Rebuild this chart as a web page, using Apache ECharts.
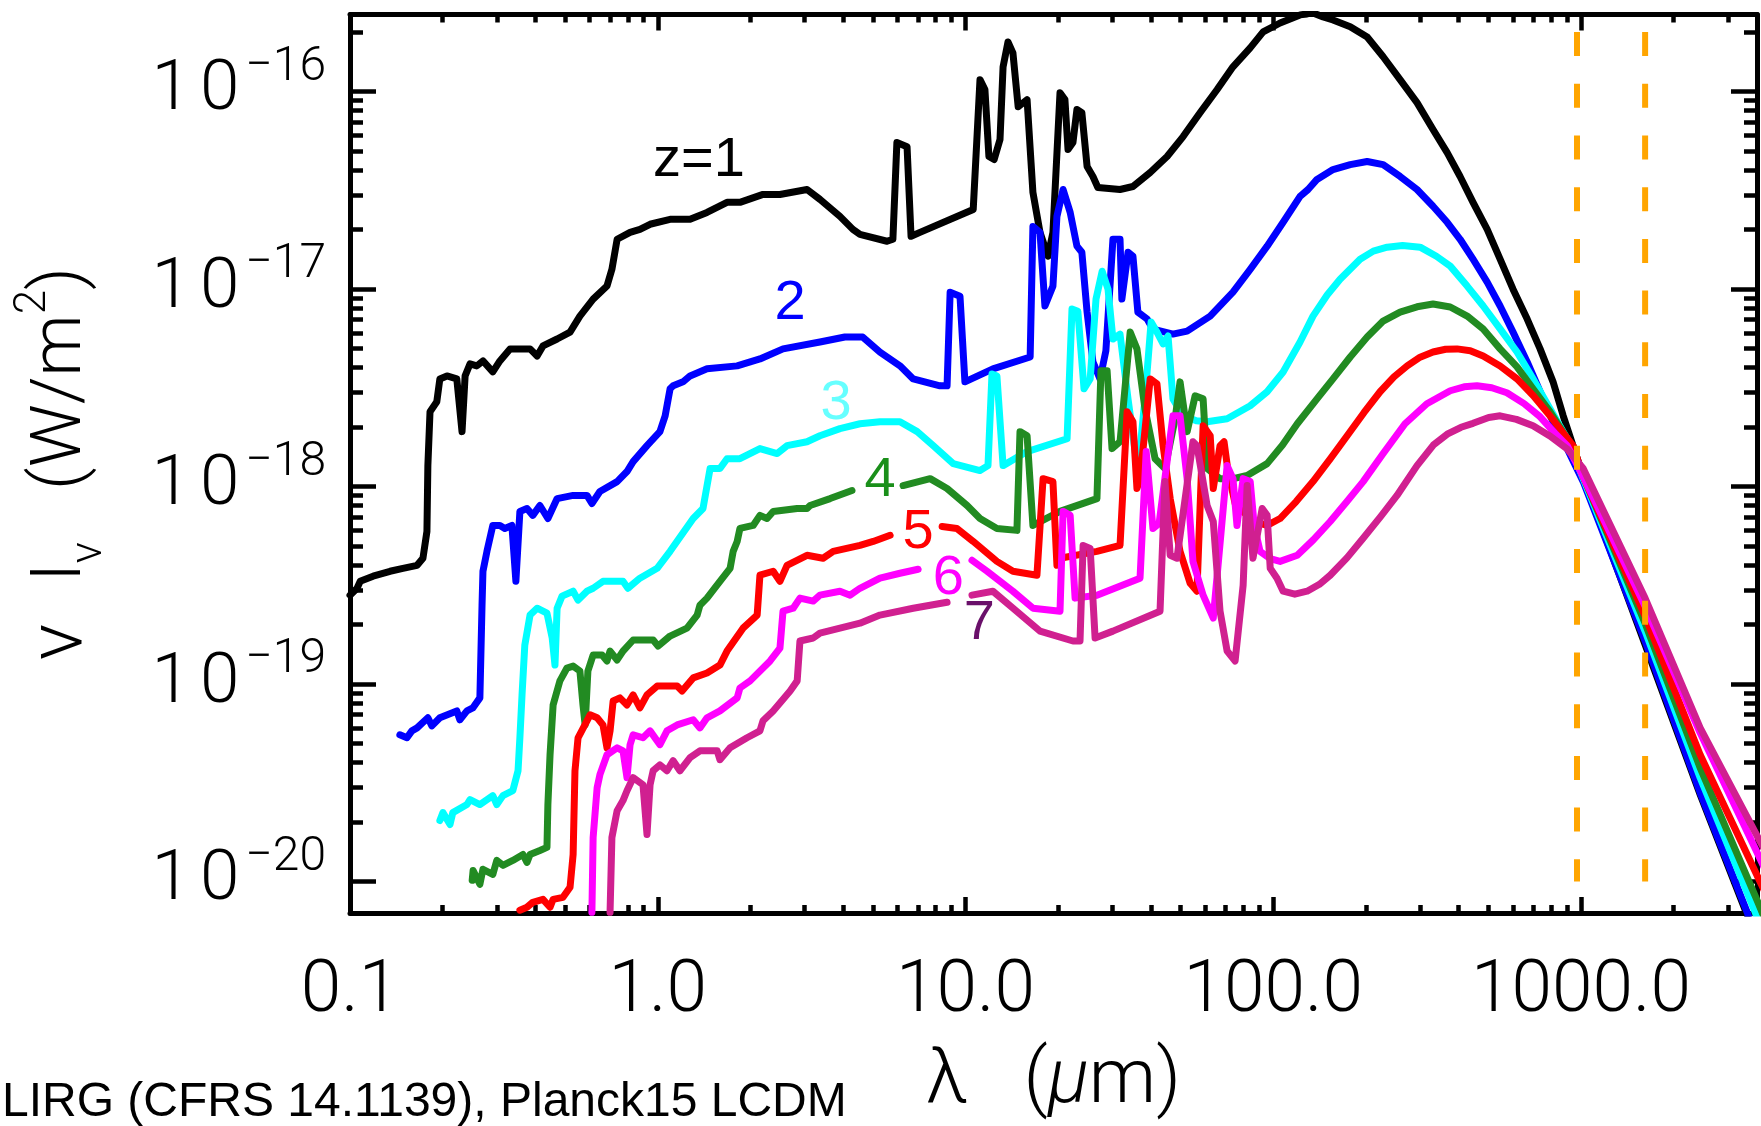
<!DOCTYPE html>
<html>
<head>
<meta charset="utf-8">
<title>LIRG SED vs redshift</title>
<script src="https://cdn.jsdelivr.net/npm/echarts@6/dist/echarts.min.js"></script>
<style>
  html, body { margin: 0; padding: 0; background: #ffffff; }
  #chart { width: 1761px; height: 1126px; }
</style>
</head>
<body>
<div id="chart"></div>
<script>
// Observed-frame SED of a LIRG template (CFRS 14.1139) redshifted to z = 1..7.
// Each point is [log10(lambda / micron), log10(nu I_nu / (W m^-2))]; null marks a break in the curve.
const sedZ1 = [[-1.000,-18.550],[-0.977,-18.515],[-0.967,-18.480],[-0.925,-18.454],[-0.870,-18.429],[-0.828,-18.414],[-0.782,-18.399],[-0.763,-18.363],[-0.750,-18.227],[-0.747,-17.894],[-0.740,-17.621],[-0.718,-17.571],[-0.708,-17.455],[-0.685,-17.440],[-0.653,-17.455],[-0.636,-17.722],[-0.626,-17.440],[-0.610,-17.379],[-0.588,-17.389],[-0.568,-17.364],[-0.536,-17.419],[-0.513,-17.364],[-0.480,-17.303],[-0.415,-17.303],[-0.392,-17.339],[-0.373,-17.288],[-0.327,-17.253],[-0.285,-17.218],[-0.253,-17.137],[-0.210,-17.051],[-0.165,-16.985],[-0.149,-16.900],[-0.132,-16.748],[-0.090,-16.713],[-0.058,-16.698],[-0.025,-16.672],[0.040,-16.647],[0.105,-16.647],[0.160,-16.612],[0.225,-16.561],[0.267,-16.561],[0.342,-16.521],[0.397,-16.521],[0.485,-16.496],[0.527,-16.546],[0.592,-16.632],[0.634,-16.698],[0.657,-16.723],[0.745,-16.758],[0.764,-16.748],[0.777,-16.258],[0.810,-16.279],[0.823,-16.733],[0.852,-16.713],[1.025,-16.597],[1.047,-15.940],[1.063,-15.990],[1.076,-16.329],[1.093,-16.344],[1.112,-16.243],[1.122,-15.875],[1.138,-15.749],[1.154,-15.804],[1.171,-16.077],[1.200,-16.041],[1.219,-16.511],[1.242,-16.713],[1.268,-16.834],[1.284,-16.713],[1.307,-16.006],[1.323,-16.041],[1.333,-16.294],[1.349,-16.258],[1.362,-16.091],[1.378,-16.107],[1.395,-16.379],[1.414,-16.430],[1.430,-16.486],[1.502,-16.496],[1.544,-16.481],[1.600,-16.410],[1.655,-16.329],[1.707,-16.228],[1.762,-16.107],[1.817,-15.991],[1.869,-15.875],[1.925,-15.779],[1.967,-15.698],[2.022,-15.653],[2.087,-15.612],[2.110,-15.607],[2.129,-15.602],[2.162,-15.622],[2.194,-15.638],[2.250,-15.672],[2.305,-15.724],[2.357,-15.824],[2.412,-15.940],[2.467,-16.056],[2.519,-16.192],[2.565,-16.309],[2.607,-16.430],[2.649,-16.561],[2.695,-16.698],[2.737,-16.849],[2.779,-17.001],[2.825,-17.152],[2.867,-17.303],[2.909,-17.470],[2.942,-17.642],[3.007,-17.950],[3.208,-18.800],[3.387,-19.560],[3.540,-20.170]];

const sedZ2 = [[-0.838,-19.257],[-0.815,-19.272],[-0.799,-19.237],[-0.782,-19.222],[-0.747,-19.171],[-0.734,-19.212],[-0.708,-19.171],[-0.653,-19.136],[-0.643,-19.181],[-0.620,-19.136],[-0.601,-19.121],[-0.578,-19.070],[-0.571,-18.601],[-0.568,-18.429],[-0.555,-18.328],[-0.536,-18.197],[-0.513,-18.197],[-0.497,-18.212],[-0.474,-18.197],[-0.461,-18.480],[-0.448,-18.126],[-0.425,-18.111],[-0.406,-18.146],[-0.383,-18.096],[-0.357,-18.162],[-0.327,-18.061],[-0.275,-18.045],[-0.230,-18.045],[-0.214,-18.086],[-0.188,-18.025],[-0.132,-17.975],[-0.100,-17.924],[-0.080,-17.874],[-0.035,-17.793],[0.007,-17.722],[0.024,-17.642],[0.040,-17.505],[0.050,-17.490],[0.082,-17.470],[0.105,-17.440],[0.160,-17.404],[0.258,-17.389],[0.332,-17.354],[0.407,-17.303],[0.527,-17.268],[0.608,-17.243],[0.666,-17.243],[0.722,-17.319],[0.787,-17.389],[0.830,-17.455],[0.917,-17.490],[0.940,-17.490],[0.950,-17.016],[0.982,-17.036],[0.998,-17.470],[1.089,-17.404],[1.210,-17.344],[1.219,-16.683],[1.242,-16.713],[1.258,-17.086],[1.284,-16.985],[1.297,-16.632],[1.317,-16.496],[1.340,-16.612],[1.362,-16.783],[1.378,-16.814],[1.395,-17.117],[1.414,-17.369],[1.437,-17.455],[1.456,-17.313],[1.479,-16.748],[1.502,-16.748],[1.508,-17.051],[1.528,-16.814],[1.544,-16.834],[1.560,-17.117],[1.590,-17.152],[1.609,-17.203],[1.674,-17.228],[1.720,-17.213],[1.795,-17.137],[1.869,-17.016],[1.925,-16.900],[1.980,-16.783],[2.032,-16.662],[2.087,-16.531],[2.113,-16.496],[2.142,-16.445],[2.194,-16.395],[2.250,-16.370],[2.305,-16.354],[2.357,-16.370],[2.412,-16.430],[2.467,-16.496],[2.519,-16.581],[2.565,-16.662],[2.607,-16.748],[2.649,-16.849],[2.695,-16.965],[2.737,-17.086],[2.779,-17.218],[2.825,-17.369],[2.867,-17.520],[2.909,-17.672],[2.955,-17.808],[3.007,-17.975],[3.208,-18.782],[3.387,-19.550],[3.540,-20.156],[3.600,-20.450]];

const sedZ3 = [[-0.708,-19.691],[-0.698,-19.651],[-0.675,-19.711],[-0.666,-19.651],[-0.620,-19.610],[-0.610,-19.585],[-0.578,-19.610],[-0.536,-19.565],[-0.523,-19.610],[-0.503,-19.565],[-0.471,-19.540],[-0.454,-19.439],[-0.448,-19.272],[-0.441,-19.055],[-0.432,-18.803],[-0.415,-18.651],[-0.392,-18.616],[-0.360,-18.641],[-0.343,-18.767],[-0.334,-18.904],[-0.327,-18.616],[-0.311,-18.555],[-0.275,-18.530],[-0.259,-18.575],[-0.230,-18.530],[-0.210,-18.515],[-0.178,-18.480],[-0.113,-18.480],[-0.097,-18.515],[-0.058,-18.464],[-0.002,-18.414],[0.040,-18.328],[0.115,-18.162],[0.147,-18.111],[0.170,-17.909],[0.202,-17.909],[0.225,-17.859],[0.267,-17.859],[0.332,-17.808],[0.388,-17.833],[0.420,-17.793],[0.485,-17.773],[0.527,-17.743],[0.592,-17.707],[0.657,-17.682],[0.722,-17.672],[0.787,-17.672],[0.843,-17.722],[0.895,-17.793],[0.960,-17.884],[1.047,-17.919],[1.073,-17.894],[1.086,-17.430],[1.102,-17.440],[1.122,-17.894],[1.200,-17.823],[1.330,-17.758],[1.346,-17.101],[1.365,-17.112],[1.385,-17.505],[1.405,-17.455],[1.424,-17.051],[1.444,-16.910],[1.463,-17.001],[1.479,-17.253],[1.502,-17.228],[1.528,-17.556],[1.560,-17.924],[1.583,-17.556],[1.603,-17.167],[1.622,-17.218],[1.642,-17.278],[1.658,-17.238],[1.674,-17.556],[1.707,-17.642],[1.750,-17.667],[1.785,-17.672],[1.850,-17.657],[1.925,-17.591],[1.980,-17.520],[2.032,-17.420],[2.087,-17.268],[2.129,-17.137],[2.175,-17.030],[2.217,-16.950],[2.282,-16.849],[2.325,-16.808],[2.370,-16.788],[2.420,-16.780],[2.477,-16.788],[2.530,-16.834],[2.575,-16.884],[2.630,-16.985],[2.682,-17.086],[2.737,-17.202],[2.792,-17.319],[2.844,-17.455],[2.899,-17.606],[2.955,-17.758],[3.007,-17.960],[3.208,-18.732],[3.387,-19.474],[3.566,-20.156],[3.600,-20.330]];

const sedZ4 = [[-0.603,-19.994],[-0.600,-19.944],[-0.578,-20.014],[-0.568,-19.938],[-0.536,-19.964],[-0.523,-19.893],[-0.503,-19.918],[-0.471,-19.893],[-0.438,-19.863],[-0.425,-19.903],[-0.415,-19.863],[-0.383,-19.843],[-0.360,-19.827],[-0.357,-19.610],[-0.350,-19.358],[-0.340,-19.106],[-0.318,-18.984],[-0.295,-18.919],[-0.275,-18.909],[-0.253,-18.934],[-0.243,-19.106],[-0.236,-19.207],[-0.227,-18.934],[-0.210,-18.853],[-0.181,-18.853],[-0.165,-18.883],[-0.155,-18.833],[-0.132,-18.878],[-0.113,-18.833],[-0.080,-18.777],[-0.015,-18.777],[0.001,-18.808],[0.040,-18.757],[0.095,-18.717],[0.128,-18.651],[0.137,-18.601],[0.160,-18.565],[0.202,-18.480],[0.235,-18.414],[0.245,-18.328],[0.258,-18.278],[0.267,-18.212],[0.310,-18.197],[0.332,-18.146],[0.355,-18.162],[0.375,-18.126],[0.453,-18.111],[0.485,-18.111],[0.495,-18.096],[0.560,-18.061],[0.631,-18.020],null,[0.797,-17.995],[0.885,-17.960],[0.940,-18.010],[1.005,-18.096],[1.047,-18.162],[1.102,-18.212],[1.167,-18.222],[1.177,-17.722],[1.200,-17.743],[1.219,-18.197],[1.307,-18.126],[1.427,-18.061],[1.440,-17.414],[1.460,-17.414],[1.476,-17.808],[1.502,-17.773],[1.535,-17.218],[1.557,-17.303],[1.583,-17.606],[1.616,-17.859],[1.648,-17.909],[1.681,-17.657],[1.697,-17.470],[1.720,-17.722],[1.746,-17.541],[1.772,-17.556],[1.785,-17.909],[1.827,-17.960],[1.870,-17.960],[1.915,-17.944],[1.980,-17.884],[2.030,-17.790],[2.078,-17.682],[2.142,-17.556],[2.194,-17.455],[2.250,-17.344],[2.305,-17.243],[2.357,-17.162],[2.412,-17.117],[2.467,-17.090],[2.519,-17.076],[2.575,-17.091],[2.630,-17.137],[2.682,-17.202],[2.737,-17.303],[2.792,-17.394],[2.844,-17.505],[2.899,-17.621],[2.955,-17.758],[3.007,-17.950],[3.208,-18.692],[3.387,-19.424],[3.572,-20.095],[3.600,-20.200]];

const sedZ5 = [[-0.448,-20.145],[-0.425,-20.130],[-0.406,-20.105],[-0.373,-20.090],[-0.350,-20.130],[-0.340,-20.090],[-0.308,-20.080],[-0.285,-20.029],[-0.275,-19.863],[-0.269,-19.439],[-0.259,-19.272],[-0.230,-19.186],[-0.220,-19.156],[-0.197,-19.171],[-0.178,-19.207],[-0.165,-19.323],[-0.155,-19.237],[-0.145,-19.086],[-0.123,-19.070],[-0.100,-19.106],[-0.080,-19.055],[-0.058,-19.121],[-0.035,-19.055],[-0.002,-19.010],[0.063,-19.010],[0.079,-19.035],[0.115,-18.969],[0.160,-18.944],[0.202,-18.904],[0.225,-18.833],[0.277,-18.717],[0.323,-18.651],[0.332,-18.449],[0.375,-18.429],[0.397,-18.480],[0.420,-18.399],[0.485,-18.348],[0.537,-18.363],[0.570,-18.328],[0.657,-18.298],[0.700,-18.278],[0.755,-18.247],null,[0.924,-18.202],[0.972,-18.212],[1.025,-18.278],[1.102,-18.379],[1.154,-18.429],[1.232,-18.449],[1.252,-17.960],[1.284,-17.975],[1.297,-18.399],[1.307,-18.363],[1.427,-18.328],[1.502,-18.298],[1.525,-17.621],[1.544,-17.672],[1.557,-18.010],[1.567,-17.960],[1.600,-17.455],[1.622,-17.480],[1.642,-17.793],[1.665,-18.061],[1.697,-18.328],[1.730,-18.490],[1.752,-18.530],[1.772,-17.692],[1.795,-17.743],[1.805,-18.010],[1.827,-17.793],[1.840,-17.773],[1.853,-17.924],[1.876,-18.086],[1.934,-18.177],[1.980,-18.197],[2.022,-18.162],[2.075,-18.075],[2.129,-17.975],[2.185,-17.860],[2.240,-17.743],[2.295,-17.625],[2.347,-17.520],[2.392,-17.445],[2.435,-17.389],[2.477,-17.345],[2.519,-17.319],[2.560,-17.305],[2.597,-17.303],[2.640,-17.312],[2.682,-17.339],[2.737,-17.390],[2.792,-17.455],[2.845,-17.540],[2.899,-17.642],[2.974,-17.793],[3.007,-17.950],[3.208,-18.656],[3.387,-19.358],[3.575,-19.979],[3.600,-20.060]];

const sedZ6 = [[-0.214,-20.156],[-0.210,-19.777],[-0.197,-19.525],[-0.188,-19.459],[-0.165,-19.358],[-0.132,-19.323],[-0.113,-19.338],[-0.100,-19.474],[-0.090,-19.307],[-0.080,-19.257],[-0.048,-19.272],[-0.025,-19.237],[0.007,-19.307],[0.030,-19.237],[0.063,-19.207],[0.115,-19.181],[0.137,-19.222],[0.160,-19.171],[0.202,-19.136],[0.258,-19.070],[0.267,-19.020],[0.300,-18.984],[0.365,-18.883],[0.397,-18.818],[0.407,-18.631],[0.440,-18.616],[0.462,-18.565],[0.505,-18.580],[0.527,-18.550],[0.592,-18.530],[0.625,-18.550],[0.657,-18.515],[0.722,-18.464],[0.787,-18.439],[0.846,-18.419],null,[1.021,-18.373],[1.070,-18.429],[1.154,-18.530],[1.219,-18.616],[1.307,-18.631],[1.317,-18.126],[1.340,-18.146],[1.356,-18.565],[1.427,-18.550],[1.567,-18.464],[1.587,-17.823],[1.609,-18.212],[1.629,-18.187],[1.674,-17.642],[1.697,-17.642],[1.720,-17.960],[1.739,-18.379],[1.772,-18.550],[1.805,-18.666],[1.850,-17.894],[1.869,-17.960],[1.882,-18.197],[1.902,-17.960],[1.925,-17.975],[1.938,-18.197],[1.957,-18.328],[1.990,-18.365],[2.022,-18.379],[2.078,-18.348],[2.130,-18.270],[2.185,-18.177],[2.240,-18.075],[2.292,-17.975],[2.357,-17.833],[2.428,-17.682],[2.499,-17.581],[2.575,-17.515],[2.620,-17.495],[2.662,-17.490],[2.710,-17.500],[2.759,-17.525],[2.815,-17.580],[2.867,-17.647],[2.915,-17.730],[2.955,-17.793],[3.007,-17.950],[3.208,-18.606],[3.387,-19.247],[3.575,-19.863],[3.600,-19.945]];

const sedZ7 = [[-0.155,-20.156],[-0.149,-19.777],[-0.132,-19.641],[-0.113,-19.590],[-0.100,-19.540],[-0.080,-19.474],[-0.048,-19.510],[-0.035,-19.762],[-0.025,-19.510],[-0.015,-19.439],[0.007,-19.409],[0.030,-19.439],[0.050,-19.388],[0.072,-19.439],[0.105,-19.373],[0.137,-19.338],[0.193,-19.338],[0.202,-19.383],[0.235,-19.323],[0.290,-19.272],[0.332,-19.237],[0.342,-19.186],[0.375,-19.136],[0.430,-19.035],[0.453,-18.984],[0.462,-18.782],[0.505,-18.767],[0.527,-18.742],[0.592,-18.717],[0.657,-18.692],[0.722,-18.651],[0.830,-18.616],[0.940,-18.586],null,[1.021,-18.550],[1.089,-18.530],[1.154,-18.616],[1.242,-18.732],[1.349,-18.782],[1.372,-18.782],[1.382,-18.298],[1.405,-18.313],[1.421,-18.767],[1.479,-18.732],[1.632,-18.631],[1.648,-17.975],[1.665,-18.348],[1.687,-18.363],[1.739,-17.773],[1.752,-17.793],[1.785,-18.096],[1.805,-18.177],[1.827,-18.631],[1.850,-18.833],[1.876,-18.883],[1.902,-18.500],[1.915,-17.995],[1.934,-18.363],[1.964,-18.111],[1.980,-18.146],[1.990,-18.414],[2.012,-18.464],[2.032,-18.530],[2.070,-18.545],[2.110,-18.530],[2.150,-18.495],[2.185,-18.449],[2.240,-18.360],[2.292,-18.262],[2.350,-18.150],[2.402,-18.045],[2.467,-17.894],[2.520,-17.790],[2.565,-17.735],[2.610,-17.700],[2.649,-17.680],[2.700,-17.650],[2.737,-17.642],[2.790,-17.660],[2.844,-17.692],[2.900,-17.745],[2.955,-17.810],[3.007,-17.909],[3.208,-18.565],[3.387,-19.222],[3.575,-19.777],[3.600,-19.850]];

// Curve annotations: text and anchor (log10 lambda, log10 flux)
const curveLabels   = ['z=1', '2', '3', '4', '5', '6', '7'];
const labelLogLam   = [0.134, 0.430, 0.579, 0.722, 0.846, 0.944, 1.045];
const labelLogFlux  = [-16.351, -17.076, -17.581, -17.970, -18.232, -18.464, -18.692];

// Reference wavelengths (micron) marked with dashed lines, and their vertical span
const markerLam   = [970, 1615];
const markerFlux  = [2e-16, 1e-20];

// Axis ranges and tick labels
const xRange = [0.1, 3730];
const yRange = [6.93e-21, 2.455e-16];
const xMajorTicks = [0.1, 1, 10, 100, 1000];
const xTickLabels = ['0.1', '1.0', '10.0', '100.0', '1000.0'];
const yMajorTicks = [1e-20, 1e-19, 1e-18, 1e-17, 1e-16];
const yTickExponents = ['\u221220', '\u221219', '\u221218', '\u221217', '\u221216'];

const footnote = 'LIRG (CFRS 14.1139), Planck15 LCDM';

// Styling
const lineColors  = ['#000000', '#0000ff', '#00ffff', '#228b22', '#ff0000', '#ff00ff', '#d02090'];
const labelColors = ['#000000', '#0000ff', '#66ffff', '#1a8f1a', '#ff0000', '#ff00ff', '#6a106a'];
const THIN = 'Roboto';

const seds = [sedZ1, sedZ2, sedZ3, sedZ4, sedZ5, sedZ6, sedZ7];

function minorTicks(lo, hi, range) {
  const out = [];
  for (let d = lo; d <= hi; d++) {
    for (let k = 2; k <= 9; k++) {
      const v = k * Math.pow(10, d);
      if (v > range[0] && v < range[1]) out.push(v);
    }
  }
  return out;
}
const xMinorTicks = minorTicks(-1, 3, xRange);
const yMinorTicks = minorTicks(-21, -16, yRange);

const toXY = pairs => pairs.map(p => p ? [Math.pow(10, p[0]), Math.pow(10, p[1])] : ['-', '-']);
const sameDecade = (a, b) => Math.abs(Math.log10(a) - Math.log10(b)) < 1e-6;

const frameLine = { show: true, onZero: false, lineStyle: { color: '#000', width: 5 } };
const tickStyle = { color: '#000', width: 4.5 };

function logAxis(position, tickValues, tickLen, withLine, labelCfg, extra) {
  const isX = position === 'bottom' || position === 'top';
  const range = isX ? xRange : yRange;
  return Object.assign({
    type: 'log', logBase: 10, min: range[0], max: range[1], position: position,
    axisLine: withLine ? frameLine : { show: false },
    axisTick: { show: true, inside: true, length: tickLen, lineStyle: tickStyle, customValues: tickValues },
    minorTick: { show: false },
    axisLabel: labelCfg || { show: false },
    splitLine: { show: false },
    axisPointer: { show: false }
  }, extra || {});
}

const xLabelCfg = {
  show: true, customValues: xMajorTicks, margin: 43,
  fontSize: 73, fontFamily: THIN, fontWeight: 300, color: '#000',
  formatter: v => xTickLabels[xMajorTicks.findIndex(t => sameDecade(t, v))]
};
// "10" is split into two tokens so the digits sit a little further apart
const yLabelCfg = {
  show: true, customValues: yMajorTicks, margin: 24,
  formatter: v => '{b|1}{c|0}{s|' + yTickExponents[yMajorTicks.findIndex(t => sameDecade(t, v))] + '}',
  rich: {
    b: { fontSize: 71, lineHeight: 96, fontFamily: THIN, fontWeight: 300, color: '#000' },
    c: { fontSize: 71, lineHeight: 96, padding: [0, 0, 0, 9], fontFamily: THIN, fontWeight: 300, color: '#000' },
    s: { fontSize: 48, lineHeight: 48, verticalAlign: 'top', padding: [0, 0, 0, 6], fontFamily: THIN, fontWeight: 300, color: '#000' }
  }
};

const xName = {
  name: '{l|\u03bb}{r|   (}{mu|\u03bc}{r|m)}',
  nameLocation: 'middle', nameGap: 126,
  nameTextStyle: {
    rich: {
      l:  { fontSize: 76, lineHeight: 88, fontFamily: THIN, fontWeight: 300, color: '#000' },
      r:  { fontSize: 76, lineHeight: 88, fontFamily: THIN, fontWeight: 300, color: '#000' },
      mu: { fontSize: 76, lineHeight: 88, fontFamily: THIN, fontWeight: 300, fontStyle: 'italic', color: '#000' }
    }
  }
};
const yName = {
  name: '{nu|\u03bd}{I|I}{sub|\u03bd}{p|(W/m}{sup|2}{q|)}',
  nameLocation: 'middle', nameRotate: 90, nameGap: 238,
  nameTextStyle: {
    rich: {
      nu:  { fontSize: 76, lineHeight: 100, fontFamily: THIN, fontWeight: 300, color: '#000', padding: [0, 42, 0, 0] },
      I:   { fontSize: 70, lineHeight: 100, fontFamily: THIN, fontWeight: 300, color: '#000' },
      sub: { fontSize: 44, lineHeight: 44, verticalAlign: 'bottom', fontFamily: THIN, fontWeight: 300, color: '#000', padding: [0, 52, 0, 0] },
      p:   { fontSize: 70, lineHeight: 100, fontFamily: THIN, fontWeight: 300, color: '#000' },
      sup: { fontSize: 44, lineHeight: 44, verticalAlign: 'top', fontFamily: THIN, fontWeight: 300, color: '#000' },
      q:   { fontSize: 70, lineHeight: 100, fontFamily: THIN, fontWeight: 300, color: '#000' }
    }
  }
};

const sedSeries = seds.map((sed, i) => ({
  type: 'line',
  name: curveLabels[i],
  xAxisIndex: 0, yAxisIndex: 0,
  data: toXY(sed),
  showSymbol: false, symbol: 'none',
  connectNulls: false, clip: true, silent: true,
  lineStyle: { color: lineColors[i], width: 7, join: 'round', cap: 'round' },
  z: 2 + i,
  markPoint: {
    silent: true,
    symbol: 'circle', symbolSize: 1,
    itemStyle: { color: 'rgba(0,0,0,0)' },
    label: {
      show: true, position: 'inside', formatter: curveLabels[i],
      fontSize: 56, fontFamily: 'Liberation Sans', color: labelColors[i]
    },
    data: [{ coord: [Math.pow(10, labelLogLam[i]), Math.pow(10, labelLogFlux[i])] }]
  }
}));

const markerSeries = markerLam.map(lam => ({
  type: 'line',
  xAxisIndex: 0, yAxisIndex: 0,
  data: markerFlux.map(f => [lam, f]),
  showSymbol: false, symbol: 'none', silent: true,
  lineStyle: { color: '#ffa500', width: 6, type: [24, 27.7], cap: 'butt' },
  z: 20
}));

const chart = echarts.init(document.getElementById('chart'), null, { renderer: 'canvas', width: 1761, height: 1126 });
chart.setOption({
  animation: false,
  backgroundColor: '#ffffff',
  title: {
    text: footnote, left: 2, top: 1079, padding: 0,
    textStyle: { fontSize: 48, fontWeight: 'normal', fontFamily: 'Liberation Sans', color: '#000' }
  },
  grid: { left: 350, top: 14.5, width: 1407, height: 901, containLabel: false },
  xAxis: [
    logAxis('bottom', xMajorTicks, 16, true, xLabelCfg, xName),
    logAxis('bottom', xMinorTicks, 8, false),
    logAxis('top', xMajorTicks, 16, true),
    logAxis('top', xMinorTicks, 8, false)
  ],
  yAxis: [
    logAxis('left', yMajorTicks, 26, true, yLabelCfg, yName),
    logAxis('left', yMinorTicks, 13, false),
    logAxis('right', yMajorTicks, 26, true),
    logAxis('right', yMinorTicks, 13, false)
  ],
  series: sedSeries.concat(markerSeries)
});
</script>
</body>
</html>
